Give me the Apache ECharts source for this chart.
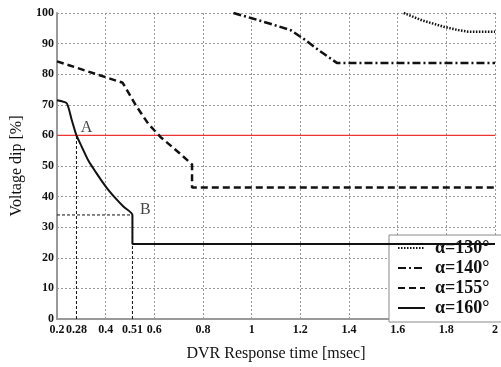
<!DOCTYPE html>
<html>
<head>
<meta charset="utf-8">
<script src="https://cdn.jsdelivr.net/npm/echarts@6/dist/echarts.min.js"></script>
<style>
  html, body { margin: 0; padding: 0; background: #fff; }
  #chart { width: 501px; height: 367px; }
</style>
</head>
<body>
<div id="chart"></div>
<script>
// DVR response time [msec] vs voltage dip [%] for four phase-jump angles
const alpha130 = [[1.625, 100], [1.70, 97.6], [1.79, 95.5], [1.85, 94.4], [1.89, 93.9], [2.0, 93.9]];
const alpha140 = [[0.925, 100], [1.00, 98.3], [1.08, 96.4], [1.16, 94.4], [1.22, 91.2], [1.28, 87.6], [1.35, 83.7], [2.0, 83.7]];
const alpha155 = [[0.2, 84.2], [0.47, 77.2], [0.525, 69.7], [0.575, 63.8], [0.625, 59.5], [0.705, 54.1], [0.755, 50.5], [0.755, 43.0], [2.0, 43.0]];
const alpha160 = [[0.2, 71.5], [0.24, 70.5], [0.26, 65.2], [0.28, 60], [0.30, 56.6], [0.33, 51.6], [0.36, 47.9], [0.385, 45.0], [0.41, 42.3], [0.44, 39.5], [0.475, 36.6], [0.51, 34.0], [0.51, 24.5], [2.0, 24.5]];

const dipLimit = 60;                 // red threshold line
const pointA = [0.28, 60];
const pointB = [0.51, 34];

const xTickLabels = [0.2, 0.28, 0.4, 0.51, 0.6, 0.8, 1, 1.2, 1.4, 1.6, 1.8, 2];
const yTickLabels = [0, 10, 20, 30, 40, 50, 60, 70, 80, 90, 100];

const seriesNames = ['\u03b1=130\u00b0', '\u03b1=140\u00b0', '\u03b1=155\u00b0', '\u03b1=160\u00b0'];

const serif = "'Liberation Serif', 'DejaVu Serif', serif";
const ink = '#111';

// guide lines dropped from A and B to the axes
const guideA = [[pointA[0], 0], [pointA[0], pointA[1]]];
const guideBv = [[pointB[0], 0], [pointB[0], pointB[1]]];
const guideBh = [[0.2, pointB[1]], [pointB[0], pointB[1]]];

function guide(data) {
  return {
    type: 'line', data: data, symbol: 'none', silent: true, z: 3,
    lineStyle: { color: ink, width: 1, type: [3, 2] }
  };
}

function curve(name, data, width, dash, extra) {
  return Object.assign({
    name: name, type: 'line', data: data, symbol: 'none', z: 4,
    color: ink, itemStyle: { color: ink },
    lineStyle: { color: ink, width: width, type: dash }
  }, extra || {});
}

const chart = echarts.init(document.getElementById('chart'), null, { renderer: 'canvas' });

chart.setOption({
  animation: false,
  backgroundColor: '#fff',
  grid: { left: 57, right: -4, top: 13, bottom: 44 },
  xAxis: {
    type: 'value', min: 0.2, max: 2.0, interval: 0.2,
    name: 'DVR Response time [msec]', nameLocation: 'middle', nameGap: 27,
    nameTextStyle: { fontFamily: serif, fontSize: 16, color: ink },
    axisLine: { show: true, onZero: false, lineStyle: { color: '#9a9a9a', width: 2 } },
    axisTick: { show: false },
    axisLabel: {
      customValues: xTickLabels,
      formatter: v => String(+(+v).toFixed(2)),
      fontFamily: serif, fontWeight: 'bold', fontSize: 12, color: ink, margin: 5
    },
    splitLine: { show: true, lineStyle: { color: '#9a9a9a', type: [2, 2], width: 1 } }
  },
  yAxis: {
    type: 'value', min: 0, max: 100, interval: 10,
    name: 'Voltage dip [%]', nameLocation: 'middle', nameGap: 23,
    nameTextStyle: { fontFamily: serif, fontSize: 16, color: ink },
    axisLine: { show: true, lineStyle: { color: '#9a9a9a', width: 2 } },
    axisTick: { show: false },
    axisLabel: {
      customValues: yTickLabels,
      fontFamily: serif, fontWeight: 'bold', fontSize: 12, color: ink, margin: 3
    },
    splitLine: { show: true, lineStyle: { color: '#9a9a9a', type: [2, 2], width: 1 } }
  },
  legend: {
    orient: 'vertical', left: 389, top: 235,
    data: seriesNames,
    backgroundColor: '#fff', borderColor: '#8a8a8a', borderWidth: 1,
    padding: [3, 20, 4, 8],
    itemWidth: 27, itemHeight: 14, itemGap: 0,
    itemStyle: { opacity: 0 },
    textStyle: { fontFamily: serif, fontWeight: 'bold', fontSize: 18, color: ink, lineHeight: 20, padding: [0, 0, 0, 5] }
  },
  series: [
    curve(seriesNames[0], alpha130, 2.5, [1.5, 1.5]),
    curve(seriesNames[1], alpha140, 2.5, [8, 3, 2, 3]),
    curve(seriesNames[2], alpha155, 2.5, [7, 4]),
    curve(seriesNames[3], alpha160, 2, 'solid', { smooth: 0.2 }),
    {
      type: 'line', data: [[0.2, dipLimit], [2.0, dipLimit]], symbol: 'none', silent: true, z: 2,
      lineStyle: { color: '#ee3333', width: 1.2 }
    },
    guide(guideA), guide(guideBv), guide(guideBh),
    {
      type: 'scatter', symbolSize: 0, silent: true, z: 5,
      data: [
        { value: pointA, label: { formatter: 'A', offset: [10, -8] } },
        { value: pointB, label: { formatter: 'B', offset: [13, -5] } }
      ],
      label: { show: true, position: 'inside', fontFamily: serif, fontSize: 16, color: ink }
    }
  ]
});
</script>
</body>
</html>
